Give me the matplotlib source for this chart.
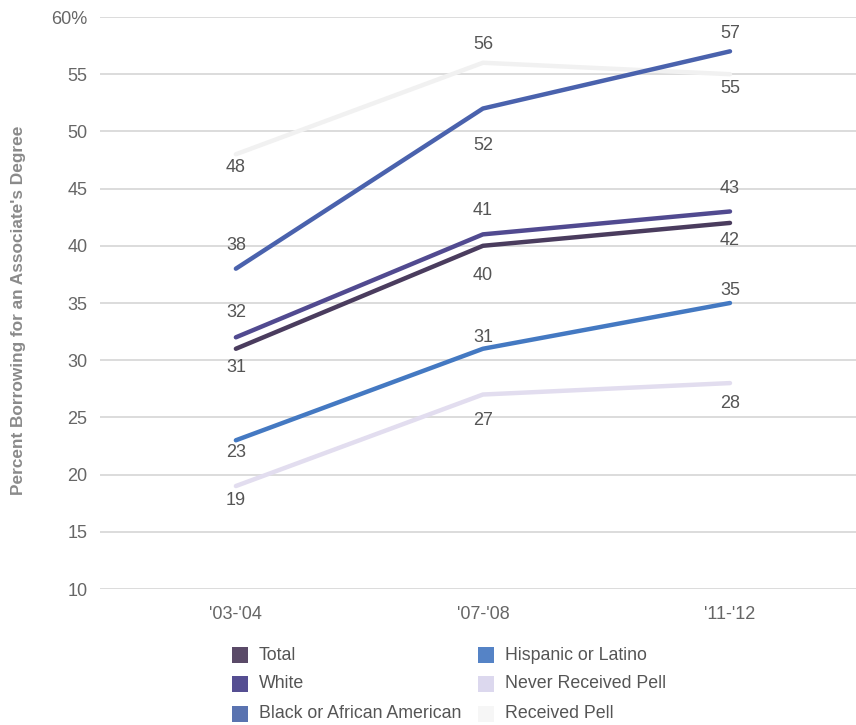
import matplotlib
matplotlib.use("Agg")
import matplotlib.pyplot as plt
from matplotlib.patches import Rectangle

plt.rcParams["font.family"] = ["Liberation Sans", "DejaVu Sans"]

# Borrowing rates for an associate's degree, by group and survey year
years = ["'03-'04", "'07-'08", "'11-'12"]
total = [31, 40, 42]
white = [32, 41, 43]
black = [38, 52, 57]
hispanic = [23, 31, 35]
never_pell = [19, 27, 28]
received_pell = [48, 56, 55]

series_names = ["Total", "White", "Black or African American",
                "Hispanic or Latino", "Never Received Pell", "Received Pell"]
series_values = [total, white, black, hispanic, never_pell, received_pell]
y_ticks = [10, 15, 20, 25, 30, 35, 40, 45, 50, 55, 60]
y_tick_labels = ["10", "15", "20", "25", "30", "35", "40", "45", "50", "55", "60%"]

colors = ["#4a3c5e", "#514a90", "#4a62ad", "#4479c2", "#e2ddef", "#f1f1f1"]
legend_colors = ["#5a4a68", "#554e92", "#5a73b0", "#5583c6", "#dcd8ee", "#f6f6f6"]
# vertical offset (pixels) of each value label from its point; + is above
label_offset = [
    [-19, -30, -18],
    [25, 24, 23],
    [23, -37, 18],
    [-12, 11, 13],
    [-14, -26, -20],
    [-13, 18, -14],
]

fig = plt.figure(figsize=(8.56, 7.25), dpi=100)
ax = fig.add_axes([100 / 856, 1 - 589 / 725, 756 / 856, 572 / 725])

x = list(range(len(years)))
for yv in y_ticks:
    ax.axhline(yv, color="#dcdcdc", lw=1.4, zorder=0)

draw_order = [5, 4, 0, 1, 3, 2]
for i in draw_order:
    ax.plot(x, series_values[i], color=colors[i], lw=3.2,
            solid_capstyle="round", zorder=2 + (0 if i >= 4 else 1))

text_color = "#555555"
px_to_pt = 72 / fig.dpi
for i, vals in enumerate(series_values):
    for j, v in enumerate(vals):
        ax.annotate(str(v), (x[j], v),
                    xytext=(0, label_offset[i][j] * px_to_pt),
                    textcoords="offset points", ha="center", va="center",
                    fontsize=13, color=text_color, zorder=5)

ax.set_xlim(-0.55, 2.51)
ax.set_ylim(10, 60)
ax.set_yticks(y_ticks)
ax.set_yticklabels(y_tick_labels)
ax.set_xticks(x)
ax.set_xticklabels(years)
ax.tick_params(axis="both", length=0, labelsize=13, labelcolor="#666666")
ax.tick_params(axis="y", pad=9)
ax.tick_params(axis="x", pad=12)
for s in ax.spines.values():
    s.set_visible(False)

fig.text(19 / 856, 1 - 310 / 725, "Percent Borrowing for an Associate's Degree",
         rotation=90, ha="center", va="center", fontsize=12.4,
         fontweight="bold", color="#8a8a8a")

# legend: two columns of square swatches
col_x = [232, 478]
row_y = [655, 684, 714]
sq = 16
for k, name in enumerate(series_names):
    cx = col_x[k // 3]
    cy = row_y[k % 3]
    fig.add_artist(Rectangle((cx / 856, 1 - (cy + sq / 2) / 725),
                             sq / 856, sq / 725, transform=fig.transFigure,
                             facecolor=legend_colors[k], edgecolor="none"))
    fig.text((cx + 27) / 856, 1 - cy / 725, name, ha="left", va="center",
             fontsize=12.8, color="#555555")

fig.savefig("out.png", dpi=100, facecolor="white")
